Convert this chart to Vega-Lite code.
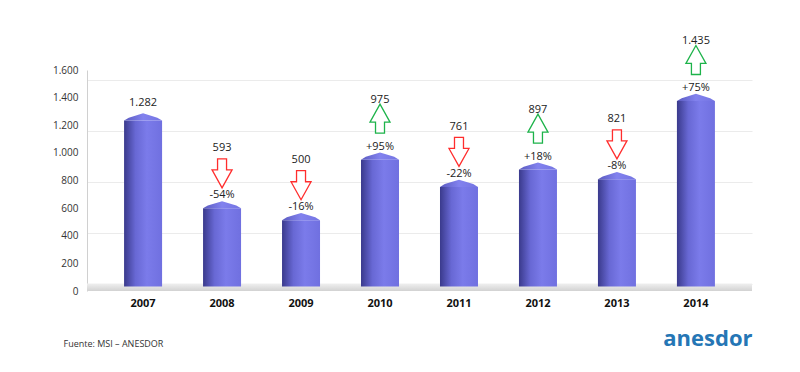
{
  "$schema": "https://vega.github.io/schema/vega-lite/v6.json",
  "width": 665,
  "height": 221,
  "autosize": {"type": "none"},
  "padding": {"left": 87, "top": 70, "right": 48, "bottom": 81},
  "background": "white",
  "config": {
    "font": "Open Sans",
    "view": {"stroke": null},
    "locale": {"number": {"decimal": ",", "thousands": ".", "grouping": [3], "currency": ["", " €"]}}
  },
  "title": {
    "text": "Fuente: MSI – ANESDOR",
    "orient": "bottom",
    "anchor": "start",
    "dx": 11,
    "offset": -9,
    "fontSize": 9,
    "fontWeight": "normal",
    "color": "#333333",
    "font": "Open Sans"
  },
  "data": {
    "values": [
      {"year": "2007", "value": 1282, "pct": null, "dir": null},
      {"year": "2008", "value": 593, "pct": "-54%", "dir": "down"},
      {"year": "2009", "value": 500, "pct": "-16%", "dir": "down"},
      {"year": "2010", "value": 975, "pct": "+95%", "dir": "up"},
      {"year": "2011", "value": 761, "pct": "-22%", "dir": "down"},
      {"year": "2012", "value": 897, "pct": "+18%", "dir": "up"},
      {"year": "2013", "value": 821, "pct": "-8%", "dir": "down"},
      {"year": "2014", "value": 1435, "pct": "+75%", "dir": "up"}
    ]
  },
  "resolve": {"scale": {"y": "independent"}, "axis": {"y": "independent"}},
  "layer": [
    {
      "data": {"values": [{"part": "floor"}]},
      "mark": {
        "type": "rect",
        "fill": {"gradient": "linear", "x1": 0, "x2": 0, "y1": 0, "y2": 1,
          "stops": [{"offset": 0, "color": "#f0f0f0"}, {"offset": 1, "color": "#d2d2d2"}]}
      },
      "encoding": {
        "y": {
          "datum": 0,
          "type": "quantitative",
          "scale": {"domain": [0, 1600], "nice": false},
          "axis": {
            "orient": "left",
            "values": [0, 200, 400, 600, 800, 1000, 1200, 1400, 1600],
            "format": ",d",
            "grid": false,
            "ticks": false,
            "tickSize": 0,
            "domain": true,
            "domainColor": "#d0d0d0",
            "labelColor": "#333333",
            "labelFontSize": 10,
            "labelPadding": 9,
            "title": null
          }
        },
        "y2": {"datum": 55}
      }
    },
    {
      "encoding": {
        "x": {
          "field": "year",
          "type": "ordinal",
          "scale": {"paddingInner": 0.5, "paddingOuter": 0.46},
          "axis": {
            "title": "anesdor",
            "titleAnchor": "end",
            "titleColor": "#2576b5",
            "titleFontSize": 22,
            "titleFontWeight": "bold",
            "titleFont": "Open Sans",
            "titlePadding": 20,
            "labelFontWeight": "bold",
            "labelFontSize": 11,
            "labelColor": "#111111",
            "labelPadding": 6,
            "labelAngle": 0,
            "ticks": false,
            "tickSize": 0,
            "domain": false
          }
        }
      },
      "layer": [
        {
          "mark": {
            "type": "bar",
            "width": 38,
            "color": {"gradient": "linear", "x1": 0, "x2": 1, "y1": 0, "y2": 0,
              "stops": [
                {"offset": 0, "color": "#3a3a8c"},
                {"offset": 0.3, "color": "#6868d4"},
                {"offset": 0.6, "color": "#7b7bea"},
                {"offset": 1, "color": "#7070e0"}
              ]}
          },
          "encoding": {
            "y": {
              "field": "value",
              "type": "quantitative",
              "scale": {"domain": [-55, 1678], "nice": false, "zero": false},
              "axis": {
                "orient": "right",
                "values": [0, 200, 400, 600, 800, 1000, 1200, 1400, 1600],
                "grid": true,
                "gridColor": "#ebebeb",
                "labels": false,
                "ticks": false,
                "domain": false,
                "title": null
              }
            },
            "y2": {"datum": -20}
          }
        },
        {
          "mark": {
            "type": "point",
            "shape": "M-1,0L-0.75,-0.15L0,-0.38L0.75,-0.15L1,0Z",
            "size": 1444,
            "filled": true,
            "opacity": 1,
            "strokeWidth": 0,
            "color": {"gradient": "linear", "x1": 0, "x2": 1, "y1": 0, "y2": 0,
              "stops": [
                {"offset": 0, "color": "#5a5ac0"},
                {"offset": 0.5, "color": "#8282ee"},
                {"offset": 1, "color": "#7474e2"}
              ]}
          },
          "encoding": {
            "y": {"field": "value", "type": "quantitative"}
          }
        },
        {
          "transform": [{"filter": "datum.pct == null"}],
          "mark": {"type": "text", "baseline": "middle", "dy": -17, "fontSize": 11, "color": "#222222"},
          "encoding": {
            "y": {"field": "value", "type": "quantitative"},
            "text": {"field": "value", "type": "quantitative", "format": ",d"}
          }
        },
        {
          "transform": [{"filter": "datum.pct != null"}],
          "mark": {"type": "text", "baseline": "middle", "dy": -60, "fontSize": 11, "color": "#222222"},
          "encoding": {
            "y": {"field": "value", "type": "quantitative"},
            "text": {"field": "value", "type": "quantitative", "format": ",d"}
          }
        },
        {
          "transform": [{"filter": "datum.pct != null"}],
          "mark": {"type": "text", "baseline": "middle", "dy": -13, "fontSize": 11, "color": "#222222"},
          "encoding": {
            "y": {"field": "value", "type": "quantitative"},
            "text": {"field": "pct"}
          }
        },
        {
          "transform": [{"filter": "datum.dir == 'up'"}],
          "mark": {
            "type": "point",
            "shape": "M-0.31,1L0.31,1L0.31,0.24L0.69,0.24L0,-1L-0.69,0.24L-0.31,0.24Z",
            "size": 841,
            "filled": true,
            "fill": "white",
            "stroke": "#1db34a",
            "strokeWidth": 1.3,
            "opacity": 1,
            "yOffset": -41
          },
          "encoding": {
            "y": {"field": "value", "type": "quantitative"}
          }
        },
        {
          "transform": [{"filter": "datum.dir == 'down'"}],
          "mark": {
            "type": "point",
            "shape": "M-0.31,-1L0.31,-1L0.31,-0.24L0.69,-0.24L0,1L-0.69,-0.24L-0.31,-0.24Z",
            "size": 841,
            "filled": true,
            "fill": "white",
            "stroke": "#ff2d2d",
            "strokeWidth": 1.3,
            "opacity": 1,
            "yOffset": -35
          },
          "encoding": {
            "y": {"field": "value", "type": "quantitative"}
          }
        }
      ]
    }
  ]
}
